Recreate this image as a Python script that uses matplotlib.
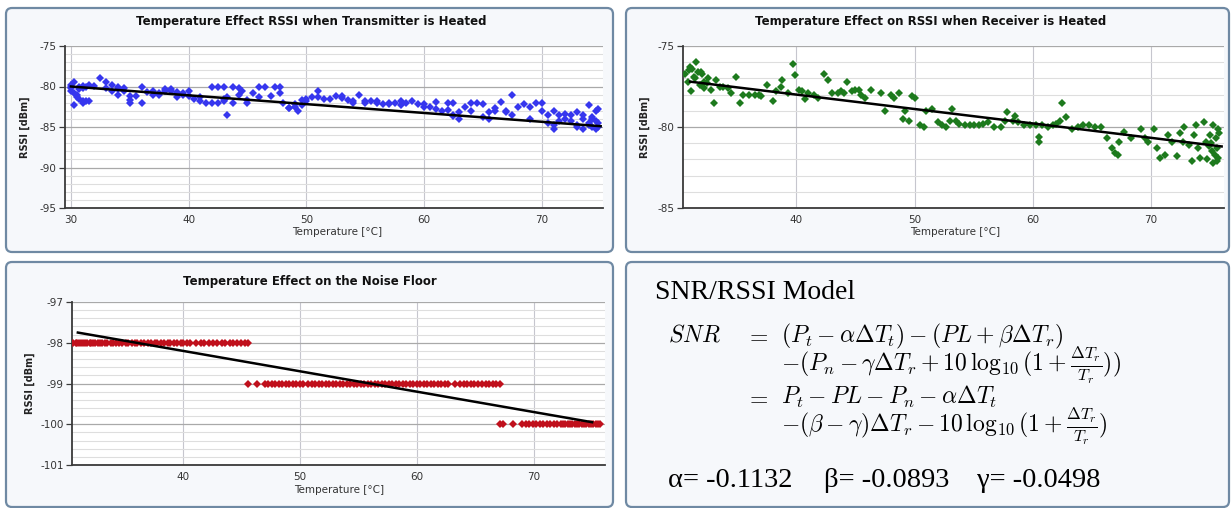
import matplotlib
matplotlib.use('Agg')
import matplotlib.pyplot as plt
from matplotlib.patches import FancyBboxPatch
from matplotlib.ticker import MultipleLocator

plt.rcParams['axes.unicode_minus'] = False
plt.rcParams['mathtext.fontset'] = 'cm'

# ---------------- data ----------------
# Transmitter heated: temperature [C], RSSI [dBm]
tx_temp = [30.0, 30.0, 30.0, 30.0, 30.3, 30.3, 30.3, 30.5, 30.5, 30.7, 30.7, 30.7,
           31.0, 31.0, 31.0, 31.0, 31.3, 31.3, 31.5, 31.5, 32.0, 32.5, 33.0, 33.0,
           33.5, 33.5, 34.0, 34.0, 34.0, 34.5, 34.5, 35.0, 35.0, 35.0, 35.5, 36.0,
           36.0, 36.5, 37.0, 37.0, 37.5, 37.5, 38.0, 38.0, 38.5, 38.5, 39.0, 39.0,
           39.0, 39.5, 39.5, 40.0, 40.0, 40.5, 41.0, 41.0, 41.5, 42.0, 42.0, 42.5,
           42.5, 43.0, 43.0, 43.0, 43.3, 43.3, 43.8, 43.8, 44.3, 44.3, 44.5, 45.0,
           45.0, 45.5, 46.0, 46.0, 46.5, 47.0, 47.3, 47.8, 47.8, 48.0, 48.5, 48.5,
           49.0, 49.0, 49.3, 49.6, 49.6, 50.0, 50.0, 50.5, 51.0, 51.0, 51.5, 52.0,
           52.5, 53.0, 53.0, 53.5, 54.0, 54.0, 54.5, 55.0, 55.0, 55.5, 56.0, 56.0,
           56.5, 57.0, 57.0, 57.5, 58.0, 58.0, 58.5, 59.0, 59.5, 60.0, 60.0, 60.5,
           61.0, 61.0, 61.5, 62.0, 62.0, 62.5, 62.5, 62.5, 63.0, 63.0, 63.5, 64.0,
           64.0, 64.5, 65.0, 65.0, 65.5, 65.5, 66.0, 66.0, 66.5, 67.0, 67.0, 67.5,
           67.5, 68.0, 68.5, 69.0, 69.0, 69.5, 70.0, 70.0, 70.5, 70.5, 71.0, 71.0,
           71.0, 71.5, 71.5, 72.0, 72.0, 72.5, 72.5, 73.0, 73.0, 73.0, 73.5, 73.5,
           73.5, 74.0, 74.0, 74.0, 74.3, 74.3, 74.3, 74.6, 74.6, 74.6, 74.8, 74.8,
           74.8]
tx_rssi = [-80.0, -80.2, -80.5, -79.8, -79.5, -80.8, -82.3, -81.0, -81.3, -81.5, -80.0, -80.3,
           -81.8, -82.0, -80.2, -79.9, -81.8, -80.0, -81.8, -79.8, -79.9, -79.0, -79.4, -80.2,
           -79.8, -80.5, -80.0, -81.0, -80.3, -80.2, -80.5, -81.7, -82.0, -81.2, -81.2, -82.0,
           -80.0, -80.7, -81.0, -80.5, -81.0, -80.8, -80.5, -80.3, -80.3, -80.5, -81.3, -80.8,
           -80.7, -81.0, -80.8, -80.5, -81.2, -81.5, -81.3, -81.8, -82.0, -82.0, -80.0, -80.0,
           -82.0, -81.6, -81.8, -80.0, -81.3, -83.5, -82.0, -80.0, -81.0, -80.2, -80.5, -81.7,
           -82.0, -80.8, -80.0, -81.3, -80.0, -81.2, -80.0, -80.0, -80.8, -82.0, -82.7, -82.6,
           -82.2, -82.5, -83.0, -81.7, -82.3, -81.6, -81.8, -81.3, -80.5, -81.3, -81.6, -81.5,
           -81.2, -81.4, -81.2, -81.7, -82.0, -81.8, -81.0, -81.8, -82.0, -81.8, -82.0, -81.8,
           -82.1, -82.0, -82.2, -82.0, -82.3, -81.8, -82.0, -81.8, -82.2, -82.1, -82.5, -82.5,
           -82.8, -81.9, -83.0, -82.9, -82.0, -83.5, -83.6, -82.0, -83.2, -84.0, -82.5, -83.0,
           -82.0, -82.0, -82.2, -83.8, -84.0, -83.2, -83.0, -82.7, -81.9, -83.0, -83.2, -81.0,
           -83.5, -82.5, -82.2, -82.5, -84.0, -82.0, -83.0, -82.0, -83.5, -84.5, -85.2, -84.7,
           -83.0, -84.3, -83.5, -83.4, -84.0, -83.5, -84.2, -84.8, -85.0, -83.1, -84.0, -83.5,
           -85.2, -82.3, -84.5, -84.8, -84.0, -85.0, -83.8, -85.3, -84.3, -83.0, -82.8, -84.5,
           -85.0]
tx_fit_temp = [30.0, 75.0]
tx_fit_rssi = [-80.0, -84.9]

# Receiver heated
rx_temp = [30.6, 31.0, 31.2, 30.8, 31.1, 31.5, 31.3, 31.7, 31.8, 32.0, 32.2, 32.2, 32.5,
           32.8, 33.0, 33.2, 33.5, 33.8, 34.5, 34.9, 35.2, 35.5, 36.0, 36.5, 37.0, 37.5,
           38.0, 38.3, 38.7, 38.8, 39.3, 39.7, 39.9, 40.2, 40.5, 40.7, 41.0, 41.5, 41.8,
           42.3, 42.7, 43.0, 43.5, 44.0, 44.3, 44.7, 45.0, 45.3, 45.5, 45.8, 46.3, 47.2,
           47.5, 48.0, 48.3, 48.7, 49.0, 49.2, 49.5, 49.8, 50.0, 50.5, 50.8, 51.0, 51.5,
           52.0, 52.3, 52.7, 53.0, 53.2, 53.5, 53.8, 54.3, 54.7, 55.0, 55.5, 55.8, 56.2,
           56.7, 57.3, 57.7, 57.8, 58.3, 58.5, 58.8, 59.3, 59.8, 60.3, 60.5, 60.5, 60.8,
           61.3, 61.7, 62.0, 62.3, 62.5, 62.8, 63.3, 63.8, 64.3, 64.8, 65.3, 65.8, 66.3,
           66.7, 67.0, 67.2, 67.3, 67.7, 68.3, 69.2, 69.5, 69.8, 70.3, 70.5, 70.8, 71.2,
           71.5, 71.8, 72.2, 72.5, 72.7, 72.8, 73.2, 73.5, 73.7, 73.8, 74.0, 74.2, 74.5,
           74.7, 74.8, 75.0, 75.2, 75.3, 75.3, 75.5, 75.6, 75.7, 75.7, 31.4, 31.9, 32.4,
           30.9, 75.1, 75.4, 75.8, 74.9, 75.6, 34.2, 36.8, 43.8]
rx_rssi = [-76.7, -76.3, -76.4, -77.2, -77.8, -76.0, -76.9, -76.6, -77.4, -76.7, -77.2, -77.6,
           -77.0, -77.7, -78.5, -77.1, -77.5, -77.5, -77.9, -76.9, -78.5, -78.0, -78.0, -78.0,
           -78.1, -77.4, -78.4, -77.8, -77.5, -77.1, -77.9, -76.1, -76.8, -77.7, -77.8, -78.3,
           -77.9, -78.0, -78.2, -76.7, -77.1, -77.9, -77.9, -77.9, -77.2, -77.8, -77.7, -77.7,
           -78.0, -78.2, -77.7, -77.9, -79.0, -78.0, -78.2, -77.9, -79.5, -79.0, -79.6, -78.1,
           -78.2, -79.9, -80.0, -79.0, -78.9, -79.7, -79.9, -80.0, -79.6, -78.9, -79.6, -79.8,
           -79.9, -79.9, -79.9, -79.9, -79.8, -79.7, -80.0, -80.0, -79.6, -79.1, -79.6, -79.3,
           -79.7, -79.9, -79.9, -79.9, -80.6, -80.9, -79.9, -80.0, -79.9, -79.8, -79.6, -78.5,
           -79.4, -80.1, -80.0, -79.9, -79.9, -80.0, -80.0, -80.7, -81.3, -81.6, -81.7, -80.9,
           -80.3, -80.7, -80.1, -80.7, -80.9, -80.1, -81.3, -81.9, -81.7, -80.5, -80.9, -81.8,
           -80.4, -80.9, -80.0, -81.1, -82.1, -80.5, -79.9, -81.3, -81.9, -79.7, -80.9, -82.0,
           -80.5, -81.5, -82.2, -79.9, -80.7, -81.3, -81.9, -80.1, -77.0, -76.6, -77.3,
           -76.5, -81.0, -81.7, -80.4, -81.2, -82.1, -77.6, -78.0, -77.8]
rx_fit_temp = [31.0, 76.0]
rx_fit_rssi = [-77.2, -81.2]

# Noise floor: the temperatures at which each dBm level was recorded
nf_temp_98 = [30.6, 30.8, 30.9, 31.1, 31.3, 31.4, 31.6, 31.8, 32.0, 32.1, 32.3, 32.5, 32.7,
              32.9, 33.1, 33.3, 33.5, 33.8, 34.0, 34.3, 34.5, 34.8, 35.1, 35.3, 35.6, 35.9,
              36.1, 36.4, 36.7, 37.0, 37.3, 37.6, 37.8, 38.1, 38.4, 38.7, 38.9, 39.2, 39.5,
              39.8, 40.0, 40.3, 40.6, 41.1, 41.5, 41.8, 42.2, 42.6, 42.9, 43.3, 43.6, 44.0,
              44.3, 44.6, 45.0, 45.3, 45.6]
nf_temp_99 = [45.6, 46.3, 47.0, 47.3, 47.6, 47.9, 48.2, 48.5, 48.8, 49.1, 49.4, 49.7, 50.0,
              50.3, 50.7, 51.0, 51.3, 51.6, 51.9, 52.2, 52.5, 52.8, 53.1, 53.4, 53.7, 54.0,
              54.3, 54.6, 54.9, 55.2, 55.5, 55.8, 56.1, 56.4, 56.7, 57.0, 57.3, 57.6, 57.9,
              58.2, 58.5, 58.8, 59.1, 59.4, 59.7, 60.0, 60.3, 60.6, 60.9, 61.2, 61.5, 61.8,
              62.1, 62.4, 62.7, 63.3, 63.7, 64.0, 64.3, 64.6, 64.9, 65.2, 65.6, 65.9, 66.2,
              66.5, 66.8, 67.1]
nf_temp_100 = [67.1, 67.4, 68.2, 69.0, 69.3, 69.6, 69.9, 70.2, 70.5, 70.8, 71.1, 71.4, 71.7,
               72.0, 72.3, 72.5, 72.7, 72.9, 73.1, 73.3, 73.5, 73.7, 73.9, 74.1, 74.3, 74.5,
               74.7, 74.9, 75.1, 75.3, 75.5, 75.7]
nf_levels = [-98, -99, -100]
nf_fit_temp = [31.0, 75.0]
nf_fit_rssi = [-97.75, -99.95]

# model text values
alpha, beta, gamma = -0.1132, -0.0893, -0.0498

# ---------------- figure ----------------
W, H = 1232, 508
fig = plt.figure(figsize=(W / 100, H / 100), dpi=100)
fig.patch.set_facecolor('white')

bg = fig.add_axes([0, 0, 1, 1])
bg.set_xlim(0, W)
bg.set_ylim(H, 0)
bg.axis('off')

BOX_EC = '#6f89a3'
BOX_FC = '#f6f8fb'
for (x0, y0, x1, y1) in [(6, 8, 613, 252), (626, 8, 1229, 252),
                         (6, 262, 613, 507), (626, 262, 1229, 507)]:
    bg.add_patch(FancyBboxPatch((x0, y0), x1 - x0, y1 - y0,
                                boxstyle='round,pad=0,rounding_size=6',
                                fc=BOX_FC, ec=BOX_EC, lw=1.6))


def px_axes(l, t, r, b):
    return fig.add_axes([l / W, 1 - b / H, (r - l) / W, (b - t) / H])


def pxtext(x, y, s, **kw):
    return fig.text(x / W, 1 - y / H, s, **kw)


def style(ax, xlim, ylim, ymaj, ymin, xt):
    ax.set_facecolor('white')
    ax.set_xlim(*xlim)
    ax.set_ylim(*ylim)
    ax.yaxis.set_major_locator(MultipleLocator(ymaj))
    ax.yaxis.set_minor_locator(MultipleLocator(ymin))
    ax.set_xticks(xt)
    ax.grid(axis='y', which='major', color='#a9a9a9', lw=0.9)
    ax.grid(axis='y', which='minor', color='#dedede', lw=0.8)
    ax.grid(axis='x', which='major', color='#c6c6ce', lw=0.8)
    ax.set_axisbelow(True)
    for s in ['top', 'right']:
        ax.spines[s].set_visible(False)
    for s in ['left', 'bottom']:
        ax.spines[s].set_color('#3a3a3a')
        ax.spines[s].set_linewidth(1.3)
    ax.tick_params(axis='y', which='major', length=4, width=0.9, color='#3a3a3a',
                   labelsize=7.5, labelcolor='#333333', pad=2)
    ax.tick_params(axis='y', which='minor', length=0)
    ax.tick_params(axis='x', which='major', length=0, labelsize=7.5,
                   labelcolor='#333333', pad=5)


TITLE_KW = dict(fontsize=8.5, fontweight='bold', ha='center', va='center', color='#111111')
XL_KW = dict(fontsize=7.5, ha='center', va='center', color='#333333')
YL_KW = dict(fontsize=7, fontweight='bold', ha='center', va='center', rotation=90, color='#222222')
MS = 3.7

# Panel 1
ax1 = px_axes(65, 46, 603, 208)
style(ax1, (29.5, 75.2), (-95, -75), 5, 1, [30, 40, 50, 60, 70])
ax1.plot(tx_temp, tx_rssi, ls='none', marker='D', ms=MS, mew=0, color='#3636ee', zorder=3)
ax1.plot(tx_fit_temp, tx_fit_rssi, color='black', lw=1.8, zorder=4)
pxtext(311, 22, 'Temperature Effect RSSI when Transmitter is Heated', **TITLE_KW)
pxtext(337, 232, 'Temperature [°C]', **XL_KW)
pxtext(25, 127, 'RSSI [dBm]', **YL_KW)

# Panel 2
ax2 = px_axes(683, 46, 1224, 208)
style(ax2, (30.4, 76.2), (-85, -75), 5, 1, [40, 50, 60, 70])
ax2.plot(rx_temp, rx_rssi, ls='none', marker='D', ms=MS, mew=0, color='#1d7a1d', zorder=3)
ax2.plot(rx_fit_temp, rx_fit_rssi, color='black', lw=1.8, zorder=4)
pxtext(931, 22, 'Temperature Effect on RSSI when Receiver is Heated', **TITLE_KW)
pxtext(955, 232, 'Temperature [°C]', **XL_KW)
pxtext(645, 127, 'RSSI [dBm]', **YL_KW)

# Panel 3
ax3 = px_axes(72, 302, 605, 465)
style(ax3, (30.5, 76.1), (-101, -97), 1, 0.2, [40, 50, 60, 70])
for lev, temps in zip(nf_levels, [nf_temp_98, nf_temp_99, nf_temp_100]):
    ax3.plot(temps, [lev] * len(temps), ls='none', marker='D', ms=MS + 0.3, mew=0,
             color='#c0101c', zorder=3)
ax3.plot(nf_fit_temp, nf_fit_rssi, color='black', lw=1.8, zorder=4)
pxtext(310, 282, 'Temperature Effect on the Noise Floor', **TITLE_KW)
pxtext(339, 490, 'Temperature [°C]', **XL_KW)
pxtext(30, 383, 'RSSI [dBm]', **YL_KW)

# Panel 4: model text
SERIF = ['Liberation Serif', 'DejaVu Serif']
pxtext(655, 299, 'SNR/RSSI Model', fontsize=20, family=SERIF, ha='left', va='baseline')
EQ = dict(fontsize=17, ha='left', va='baseline')
pxtext(668, 342, r'$SNR$', **EQ)
pxtext(745, 342, r'$=$', **EQ)
pxtext(781, 342, r'$(P_t-\alpha\Delta T_t)-(PL+\beta\Delta T_r)$', **EQ)
pxtext(781, 371, r'$-(P_n-\gamma\Delta T_r+10\,\log_{10}(1+\frac{\Delta T_r}{T_r}))$', **EQ)
pxtext(745, 404, r'$=$', **EQ)
pxtext(781, 404, r'$P_t-PL-P_n-\alpha\Delta T_t$', **EQ)
pxtext(781, 432, r'$-(\beta-\gamma)\Delta T_r-10\,\log_{10}(1+\frac{\Delta T_r}{T_r})$', **EQ)
PK = dict(fontsize=20.5, family=SERIF, ha='left', va='baseline')
pxtext(668, 487, 'α= %.4f' % alpha, **PK)
pxtext(824, 487, 'β= %.4f' % beta, **PK)
pxtext(977, 487, 'γ= %.4f' % gamma, **PK)

fig.savefig('out.png', dpi=100)
